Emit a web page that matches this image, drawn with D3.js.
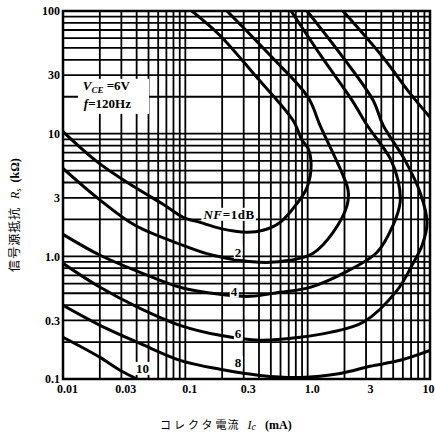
<!DOCTYPE html>
<html><head><meta charset="utf-8">
<script src="https://cdn.jsdelivr.net/npm/d3@7"></script>
<style>body{margin:0;background:#fff;}svg{display:block;}</style>
</head><body>
<svg id="c" width="435" height="441"></svg>
<script>
// ---- data (Ic in mA, Rs in kΩ) ----
const xTickValues = [0.01, 0.03, 0.1, 0.3, 1, 3, 10];
const xTickLabels = ["0.01", "0.03", "0.1", "0.3", "1.0", "3", "10"];
const yTickValues = [0.1, 0.3, 1, 3, 10, 30, 100];
const yTickLabels = ["0.1", "0.3", "1.0", "3", "10", "30", "100"];

const nf1 = [[0.010,10.4],[0.0193,5.84],[0.0388,3.65],[0.0682,2.60],[0.0958,2.08],[0.132,1.89],[0.192,1.69],[0.319,1.57],[0.432,1.63],[0.594,1.89],[0.819,2.70],[0.989,3.65],[1.067,5.52],[1.007,7.59],[0.90,8.82],[0.760,12.8],[0.371,29.9],[0.192,63.2],[0.113,100]];
const nf2 = [[0.010,5.21],[0.0193,2.97],[0.0388,1.79],[0.0958,1.23],[0.168,1.02],[0.408,0.894],[0.718,0.928],[1.107,1.06],[1.614,1.57],[2.099,2.60],[2.14,3.45],[1.946,4.57],[1.262,11.7],[1.007,19.8],[0.493,43.5],[0.219,100]];
const nf4 = [[0.010,1.51],[0.0201,1.02],[0.0426,0.741],[0.0905,0.559],[0.192,0.490],[0.338,0.472],[0.594,0.509],[1.047,0.559],[1.946,0.727],[3.690,1.08],[4.989,1.79],[5.698,2.75],[5.483,4.16],[4.721,6.29],[3.062,11.7],[2.307,18.7],[1.312,41.8],[0.732,100]];
const nf6 = [[0.010,0.877],[0.0201,0.559],[0.0426,0.377],[0.0905,0.274],[0.192,0.227],[0.408,0.207],[0.867,0.219],[1.524,0.240],[2.838,0.290],[5.383,0.528],[7.275,0.877],[8.62,1.23],[9.464,1.89],[8.297,3.32],[6.252,6.06],[4.139,11.7],[3.427,18.7],[1.946,41.8],[0.989,100]];
const nf8Low = [[0.010,0.399],[0.0201,0.274],[0.0426,0.195],[0.0905,0.142],[0.192,0.120],[0.408,0.107],[0.867,0.103],[1.840,0.111],[3.236,0.127],[5.698,0.142],[10,0.171]];
const nf8High = [[1.946,100],[4.139,41.8],[6.873,21.3],[10,13.6]];
const nf10 = [[0.010,0.219],[0.0138,0.185],[0.0201,0.150],[0.0292,0.118],[0.0403,0.1]];

const curveLabels = [
  {text:"2", at:[0.27,1.08]},
  {text:"4", at:[0.25,0.52]},
  {text:"6", at:[0.27,0.235]},
  {text:"8", at:[0.27,0.137]},
  {text:"10", at:[0.0446,0.122]}
];

// ---- chart ----
const svg = d3.select("#c");
const L = 63, R = 430, T = 11, B = 379;
const x = d3.scaleLog().domain([0.01, 10]).range([L, R]);
const y = d3.scaleLog().domain([0.1, 100]).range([B, T]);
const serif = "'Liberation Serif','DejaVu Serif',serif";

svg.append("defs").append("clipPath").attr("id","clip")
  .append("rect").attr("x",L).attr("y",T).attr("width",R-L).attr("height",B-T);

const grid = svg.append("g").attr("stroke","#000").attr("stroke-width",1.8);
grid.selectAll("line.v").data(x.ticks()).join("line")
  .attr("x1",d=>x(d)).attr("x2",d=>x(d)).attr("y1",T).attr("y2",B);
grid.selectAll("line.h").data(y.ticks()).join("line")
  .attr("y1",d=>y(d)).attr("y2",d=>y(d)).attr("x1",L).attr("x2",R);

// white area behind conditions text
svg.append("rect").attr("x",L+15).attr("y",y(28)).attr("width",71).attr("height",y(14.5)-y(28)).attr("fill","#fff");

svg.append("rect").attr("x",L).attr("y",T).attr("width",R-L).attr("height",B-T)
  .attr("fill","none").attr("stroke","#000").attr("stroke-width",2.5);

const line = d3.line().x(d=>x(d[0])).y(d=>y(d[1])).curve(d3.curveCatmullRom.alpha(0.5));
svg.append("g").attr("clip-path","url(#clip)")
  .selectAll("path").data([nf1,nf2,nf4,nf6,nf8Low,nf8High,nf10]).join("path")
  .attr("d",line).attr("fill","none").attr("stroke","#000").attr("stroke-width",3);

// axes
const xAxis = svg.append("g").attr("transform",`translate(0,${B})`)
  .call(d3.axisBottom(x).tickValues(xTickValues).tickFormat((d,i)=>xTickLabels[i]).tickSize(0).tickPadding(5));
const yAxis = svg.append("g").attr("transform",`translate(${L},0)`)
  .call(d3.axisLeft(y).tickValues(yTickValues).tickFormat((d,i)=>yTickLabels[i]).tickSize(0).tickPadding(3));
[xAxis,yAxis].forEach(a=>{
  a.select(".domain").remove();
  a.selectAll("text").attr("font-family",serif).attr("font-weight","bold").attr("font-size",12).attr("fill","#000");
});
xAxis.selectAll("text").attr("dx",(d,i)=> i===xTickValues.length-1 ? -2 : 4);

// labels with white backing
function boxedText(g, px, py, build, fs){
  const t = g.append("text").attr("x",px).attr("y",py).attr("font-family",serif)
    .attr("font-weight","bold").attr("font-size",fs||13).attr("text-anchor","middle").attr("dominant-baseline","central");
  build(t);
  const bb = t.node().getBBox();
  g.insert("rect","text").attr("x",bb.x-1).attr("y",bb.y+1).attr("width",bb.width+2).attr("height",bb.height-2).attr("fill","#fff");
  return t;
}
curveLabels.forEach(c=>{
  const g = svg.append("g");
  boxedText(g, x(c.at[0]), y(c.at[1]), t=>t.text(c.text));
});
// NF=1dB
{
  const g = svg.append("g");
  boxedText(g, x(0.228), y(2.2), t=>{
    t.attr("letter-spacing",0.6);
    t.append("tspan").attr("font-style","italic").text("NF");
    t.append("tspan").text("=1dB");
  });
}
// conditions
{
  const g = svg.append("g").attr("font-family",serif).attr("font-weight","bold").attr("font-size",13);
  const t1 = g.append("text").attr("x",x(0.0145)).attr("y",y(22.5));
  t1.append("tspan").attr("font-style","italic").text("V");
  t1.append("tspan").attr("font-style","italic").attr("font-size",9).attr("dy",3).text("CE");
  t1.append("tspan").attr("dy",-3).text(" =6V");
  const t2 = g.append("text").attr("x",x(0.0148)).attr("y",y(16.2));
  t2.append("tspan").attr("font-style","italic").text("f");
  t2.append("tspan").text("=120Hz");
}
// axis titles
{
  const t = svg.append("text").attr("x",160).attr("y",429).attr("text-anchor","start")
    .attr("font-size",11).attr("fill","#000");
  t.append("tspan").attr("font-family","'Noto Sans CJK JP',sans-serif").attr("letter-spacing",3).text("コレクタ");
  t.append("tspan").attr("font-family","'Noto Sans CJK JP',sans-serif").attr("letter-spacing",1).text("電流");
  t.append("tspan").attr("font-family",serif).attr("font-style","italic").attr("font-size",12).attr("dx",8).text("I");
  t.append("tspan").attr("font-family",serif).attr("font-style","italic").attr("font-size",10).attr("dy",1).text("c");
  t.append("tspan").attr("font-family",serif).attr("font-weight","bold").attr("font-size",12).attr("dy",-1).attr("dx",9).text("(mA)");

  const ty = svg.append("text").attr("transform","translate(19,215) rotate(-90)").attr("text-anchor","middle")
    .attr("font-size",12).attr("fill","#000");
  ty.append("tspan").attr("font-family","'Noto Sans CJK JP',sans-serif").attr("letter-spacing",1).text("信号源抵抗");
  ty.append("tspan").attr("font-family",serif).attr("font-style","italic").attr("dx",8).text("R");
  ty.append("tspan").attr("font-family",serif).attr("font-style","italic").attr("font-size",8).attr("dy",2).text("s");
  ty.append("tspan").attr("font-family",serif).attr("font-weight","bold").attr("dy",-2).attr("dx",6).text("(kΩ)");
}
</script>
</body></html>
